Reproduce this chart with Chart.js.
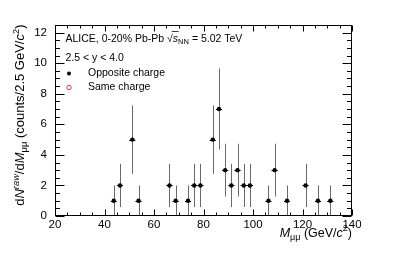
<!DOCTYPE html>
<html>
<head>
<meta charset="utf-8">
<script src="https://cdn.jsdelivr.net/npm/chart.js@4/dist/chart.umd.min.js"></script>
<style>
html,body{margin:0;padding:0;background:#fff;}
canvas{display:block;}
</style>
</head>
<body>
<canvas id="c" width="399" height="255"></canvas>
<script>
// ---- data ----
const massBinCenters = [43.75, 46.25, 51.25, 53.75, 66.25, 68.75, 73.75, 76.25, 78.75, 83.75, 86.25, 88.75, 91.25, 93.75, 96.25, 98.75, 106.25, 108.75, 113.75, 121.25, 126.25, 131.25];
const oppositeCounts = [1, 2, 5, 1, 2, 1, 1, 2, 2, 5, 7, 3, 2, 3, 2, 2, 1, 3, 1, 2, 1, 1];
const oppositeErrors = [1, 1.41, 2.24, 1, 1.41, 1, 1, 1.41, 1.41, 2.24, 2.65, 1.73, 1.41, 1.73, 1.41, 1.41, 1, 1.73, 1, 1.41, 1, 1];
const binHalfWidth = [1.25, 1.25, 1.25, 1.25, 1.25, 1.25, 1.25, 1.25, 1.25, 1.25, 1.25, 1.25, 1.25, 1.25, 1.25, 1.25, 1.25, 1.25, 1.25, 1.25, 1.25, 1.25];
const sameChargeCenters = [];
const sameChargeCounts = [];
const xTickValues = [20, 40, 60, 80, 100, 120, 140];
const yTickValues = [0, 2, 4, 6, 8, 10, 12];
const seriesNames = ['Opposite charge', 'Same charge'];

const FONT = '"Liberation Sans", Arial, Helvetica, sans-serif';
const SMALL = 0.72;

function partFont(p, size) {
  const s = (p.sup || p.sub) ? size * SMALL : size;
  return (p.italic ? 'italic ' : '') + s + 'px ' + FONT;
}
function partDy(p, size) {
  if (p.sup) return -size * 0.42;
  if (p.sub) return size * 0.25;
  return 0;
}
function drawRich(ctx, parts, x, y, size) {
  ctx.textAlign = 'left';
  for (const p of parts) {
    ctx.font = partFont(p, size);
    ctx.fillText(p.t, x, y + partDy(p, size));
    const w = ctx.measureText(p.t).width;
    if (p.over) {
      ctx.save(); ctx.strokeStyle = '#000'; ctx.lineWidth = 0.8;
      ctx.beginPath(); ctx.moveTo(x - 1, y - size * 0.95); ctx.lineTo(x + w + 0.5, y - size * 0.95); ctx.stroke();
      ctx.restore();
    }
    x += w;
  }
  return x;
}
// right-anchored: draws parts from last to first, ending exactly at xEnd
function drawRichRight(ctx, parts, xEnd, y, size) {
  ctx.textAlign = 'right';
  let x = xEnd;
  for (let i = parts.length - 1; i >= 0; i--) {
    const p = parts[i];
    ctx.font = partFont(p, size);
    ctx.fillText(p.t, x, y + partDy(p, size));
    x -= ctx.measureText(p.t).width;
  }
  ctx.textAlign = 'left';
  return x;
}

const framePlugin = {
  id: 'framePlugin',
  beforeDatasetsDraw(chart) {
    const ctx = chart.ctx;
    const xs = chart.scales.x, ys = chart.scales.y;
    ctx.save();
    ctx.lineWidth = 1;
    massBinCenters.forEach((m, i) => {
      const v = oppositeCounts[i], e = oppositeErrors[i];
      const px = Math.round(xs.getPixelForValue(m)) + 0.5;
      const py = Math.round(ys.getPixelForValue(v)) + 0.5;
      ctx.strokeStyle = '#6a6a6a';
      ctx.beginPath();
      ctx.moveTo(px, ys.getPixelForValue(Math.max(0, v - e)));
      ctx.lineTo(px, ys.getPixelForValue(v + e));
      ctx.stroke();
      ctx.strokeStyle = '#000';
      ctx.beginPath();
      ctx.moveTo(xs.getPixelForValue(m - binHalfWidth[i]), py);
      ctx.lineTo(xs.getPixelForValue(m + binHalfWidth[i]), py);
      ctx.stroke();
    });
    ctx.restore();
  },
  afterDraw(chart) {
    const ctx = chart.ctx;
    const a = chart.chartArea;
    const xs = chart.scales.x, ys = chart.scales.y;
    ctx.save();
    ctx.strokeStyle = '#000';
    ctx.lineWidth = 1;
    const L = Math.round(a.left) + 0.5, R = Math.round(a.right) - 0.5;
    const T = Math.round(a.top) + 0.5, B = Math.round(a.bottom) - 0.5;
    ctx.strokeRect(L, T, R - L, B - T);
    ctx.beginPath();
    for (let v = xs.min; v <= xs.max + 1e-9; v += 5) {
      const major = Math.abs(v % 20) < 1e-9;
      const len = major ? 6 : 3;
      const px = Math.round(xs.getPixelForValue(v)) + 0.5;
      ctx.moveTo(px, B); ctx.lineTo(px, B - len);
      ctx.moveTo(px, T); ctx.lineTo(px, T + len);
    }
    for (let v = 0; v <= ys.max + 1e-9; v += 0.5) {
      const major = Math.abs(v % 2) < 1e-9;
      const len = major ? 9 : 4.5;
      const py = Math.round(ys.getPixelForValue(v)) + 0.5;
      ctx.moveTo(L, py); ctx.lineTo(L + len, py);
      ctx.moveTo(R, py); ctx.lineTo(R - len, py);
    }
    ctx.stroke();

    ctx.fillStyle = '#000';
    ctx.textBaseline = 'alphabetic';
    const hs = 10.5;
    drawRich(ctx, [
      {t: 'ALICE, 0-20% Pb-Pb '},
      {t: '\u221A'},
      {t: 's', italic: true, over: true},
      {t: 'NN', sub: true},
      {t: ' = 5.02 TeV'}
    ], L + 10, 41.5, hs);
    drawRich(ctx, [{t: '2.5 < y < 4.0'}], L + 10, 60.5, hs);

    // legend
    ctx.beginPath(); ctx.fillStyle = '#000';
    ctx.arc(69, 73.5, 2, 0, Math.PI * 2); ctx.fill();
    ctx.beginPath(); ctx.strokeStyle = '#e33'; ctx.lineWidth = 1;
    ctx.arc(69, 87.5, 2.2, 0, Math.PI * 2); ctx.stroke();
    ctx.fillStyle = '#000';
    ctx.font = hs + 'px ' + FONT;
    ctx.textBaseline = 'middle';
    ctx.textAlign = 'left';
    ctx.fillText(chart.data.datasets[0].label, 88, 73.5);
    ctx.fillText(chart.data.datasets[1].label, 88, 87.5);

    // x axis title (right-aligned to frame)
    ctx.textBaseline = 'alphabetic';
    const xParts = [
      {t: 'M', italic: true}, {t: '\u03BC\u03BC', sub: true},
      {t: ' (GeV/'}, {t: 'c', italic: true}, {t: '2', sup: true}, {t: ')'}
    ];
    drawRichRight(ctx, xParts, R + 0.5, 236.5, 12.5);

    // y axis title (rotated, right-aligned to frame top)
    const yParts = [
      {t: 'd'}, {t: 'N', italic: true}, {t: 'raw', italic: true, sup: true},
      {t: '/d'}, {t: 'M', italic: true}, {t: '\u03BC\u03BC', sub: true},
      {t: ' (counts/2.5 GeV/'}, {t: 'c', italic: true}, {t: '2', sup: true}, {t: ')'}
    ];
    ctx.save();
    ctx.translate(24, T - 1);
    ctx.rotate(-Math.PI / 2);
    drawRichRight(ctx, yParts, 0, 0, 13);
    ctx.restore();
    ctx.restore();
  }
};

new Chart(document.getElementById('c'), {
  type: 'scatter',
  data: {
    datasets: [
      {
        label: seriesNames[0],
        data: massBinCenters.map((m, i) => ({x: m, y: oppositeCounts[i]})),
        backgroundColor: '#000', borderColor: '#000', borderWidth: 0,
        pointRadius: 2.2, pointStyle: 'circle'
      },
      {
        label: seriesNames[1],
        data: sameChargeCenters.map((m, i) => ({x: m, y: sameChargeCounts[i]})),
        backgroundColor: 'rgba(0,0,0,0)', borderColor: '#e33', borderWidth: 1,
        pointRadius: 2.2, pointStyle: 'circle'
      }
    ]
  },
  options: {
    responsive: false,
    animation: false,
    devicePixelRatio: 1,
    layout: {padding: {left: 0, right: 47, top: 25, bottom: 0}},
    plugins: {legend: {display: false}, tooltip: {enabled: false}},
    scales: {
      x: {
        type: 'linear', min: 20, max: 140,
        afterFit(s) { s.height = 39; },
        afterBuildTicks(s) { s.ticks = xTickValues.map(v => ({value: v})); },
        grid: {display: false, drawTicks: false},
        border: {display: false},
        ticks: {color: '#000', font: {family: FONT, size: 11.5}, padding: 2, maxRotation: 0, autoSkip: false}
      },
      y: {
        type: 'linear', min: 0, max: 12.5,
        afterFit(s) { s.width = 55; },
        afterBuildTicks(s) { s.ticks = yTickValues.map(v => ({value: v})); },
        grid: {display: false, drawTicks: false},
        border: {display: false},
        ticks: {color: '#000', font: {family: FONT, size: 11.5}, padding: 8, autoSkip: false}
      }
    }
  },
  plugins: [framePlugin]
});
</script>
</body>
</html>
